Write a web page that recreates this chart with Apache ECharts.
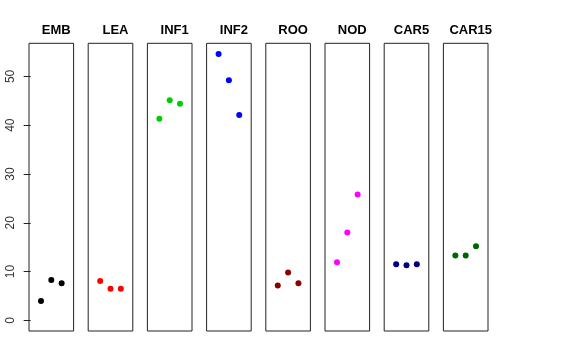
<!DOCTYPE html>
<html><head><meta charset="utf-8">
<script src="https://cdn.jsdelivr.net/npm/echarts@6/dist/echarts.min.js"></script>
<style>html,body{margin:0;padding:0;background:#fff}#c{width:576px;height:360px}</style>
</head><body><div id="c"></div>
<script>
const panels = ["EMB","LEA","INF1","INF2","ROO","NOD","CAR5","CAR15"];
const colors = ["#000000","#FF0000","#00CD00","#0000FF","#8B0000","#FF00FF","#000080","#006400"];
const positions = [1,2,3];
const values = [
  [3.95, 8.25, 7.6],
  [8.05, 6.5, 6.5],
  [41.3, 45.1, 44.4],
  [54.6, 49.2, 42.1],
  [7.15, 9.8, 7.6],
  [11.9, 18.0, 25.8],
  [11.5, 11.3, 11.5],
  [13.3, 13.3, 15.2]
];
const yTicks = [0,10,20,30,40,50];

const chart = echarts.init(document.getElementById('c'));
const grids=[], xAxes=[], yAxes=[], series=[], titles=[];
const L0 = 29, step = 59.2, W = 44.6, TOP = 43.3, H = 287.7;
panels.forEach((p,i)=>{
  const left = L0 + i*step;
  grids.push({left:left, top:TOP, width:W, height:H, show:true, borderColor:'#222', borderWidth:1, backgroundColor:'transparent'});
  xAxes.push({gridIndex:i, type:'value', min:-0.16, max:4.16, show:false});
  yAxes.push({gridIndex:i, type:'value', min:-2.18, max:56.78,
    show: i===0,
    splitLine:{show:false}, axisLine:{show:false},
    axisTick:{show:i===0, length:7, lineStyle:{color:'#222'}, customValues:yTicks},
    axisLabel:{show:i===0, rotate:90, margin:12, color:'#333', fontSize:12, fontFamily:'Liberation Sans, Arial, sans-serif', customValues:yTicks}
  });
  titles.push({text:p, left:left+W/2, top:19, textAlign:'center',
    textStyle:{fontSize:13, fontWeight:'bold', color:'#000', fontFamily:'Liberation Sans, Arial, sans-serif'}});
  series.push({type:'scatter', xAxisIndex:i, yAxisIndex:i, symbolSize:6,
    itemStyle:{color:colors[i], opacity:1}, silent:true,
    data: positions.map((x,k)=>[x, values[i][k]])});
});
chart.setOption({animation:false, title:titles, grid:grids, xAxis:xAxes, yAxis:yAxes, series:series});
</script></body></html>
